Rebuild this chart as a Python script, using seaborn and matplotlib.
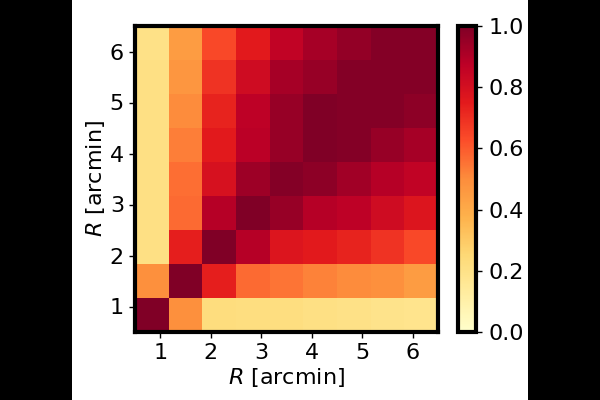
import numpy as np
import pandas as pd
import seaborn as sns
import matplotlib.pyplot as plt
from matplotlib.patches import Rectangle

# correlation matrix, rows from bottom (small R) to top (large R)
r_bins = [0.83, 1.5, 2.17, 2.83, 3.5, 4.17, 4.83, 5.5, 6.17]
row1 = [1.00, 0.49, 0.23, 0.22, 0.22, 0.21, 0.20, 0.19, 0.18]
row2 = [0.49, 1.00, 0.74, 0.57, 0.55, 0.52, 0.50, 0.49, 0.45]
row3 = [0.21, 0.74, 1.00, 0.89, 0.77, 0.75, 0.73, 0.69, 0.64]
row4 = [0.21, 0.57, 0.89, 1.00, 0.95, 0.89, 0.87, 0.82, 0.77]
row5 = [0.21, 0.56, 0.79, 0.94, 0.99, 0.97, 0.93, 0.89, 0.86]
row6 = [0.21, 0.53, 0.75, 0.875, 0.95, 1.00, 0.99, 0.95, 0.92]
row7 = [0.21, 0.50, 0.73, 0.87, 0.95, 1.00, 0.99, 0.99, 0.97]
row8 = [0.21, 0.47, 0.69, 0.82, 0.92, 0.95, 0.99, 0.99, 0.99]
row9 = [0.20, 0.45, 0.64, 0.75, 0.86, 0.92, 0.96, 0.99, 0.99]
tick_vals = [1, 2, 3, 4, 5, 6]
cbar_ticks = [0.0, 0.2, 0.4, 0.6, 0.8, 1.0]

corr = pd.DataFrame([row1, row2, row3, row4, row5, row6, row7, row8, row9],
                    index=r_bins, columns=r_bins)

fig = plt.figure(figsize=(6, 4), dpi=100)
fig.patch.set_facecolor("black")
fig.patches.append(Rectangle((0.12, 0), 0.76, 1, transform=fig.transFigure,
                             facecolor="white", edgecolor="none", zorder=-10))

ax = fig.add_axes([0.225, 0.17, 0.505, 0.765])
cax = fig.add_axes([0.763, 0.17, 0.03, 0.765])

sns.heatmap(corr, ax=ax, cbar_ax=cax, cmap="YlOrRd", vmin=0, vmax=1,
            xticklabels=False, yticklabels=False,
            cbar_kws={"ticks": cbar_ticks})
ax.invert_yaxis()

# cells span 0.5..6.5 in arcmin, 9 bins of 2/3 arcmin
n = len(r_bins)
pos = [(v - 0.5) * n / 6.0 for v in tick_vals]
ax.set_xticks(pos)
ax.set_xticklabels(tick_vals)
ax.set_yticks(pos)
ax.set_yticklabels(tick_vals, rotation=0)

for s in ax.spines.values():
    s.set_visible(True)
    s.set_linewidth(3)
    s.set_color("black")
ax.tick_params(axis="both", which="major", labelsize=16, length=4,
               width=1, direction="out", bottom=True, left=True, pad=4)
ax.set_xlabel(r"$R$ [arcmin]", fontsize=16, labelpad=2)
ax.set_ylabel(r"$R$ [arcmin]", fontsize=16, labelpad=2)

cb = ax.collections[0].colorbar
cb.outline.set_linewidth(3)
cb.outline.set_visible(True)
cb.ax.tick_params(labelsize=16, length=4, width=1, pad=5)
cb.ax.set_yticklabels(["0.0", "0.2", "0.4", "0.6", "0.8", "1.0"])

fig.savefig("out.png", dpi=100, facecolor=fig.get_facecolor())
